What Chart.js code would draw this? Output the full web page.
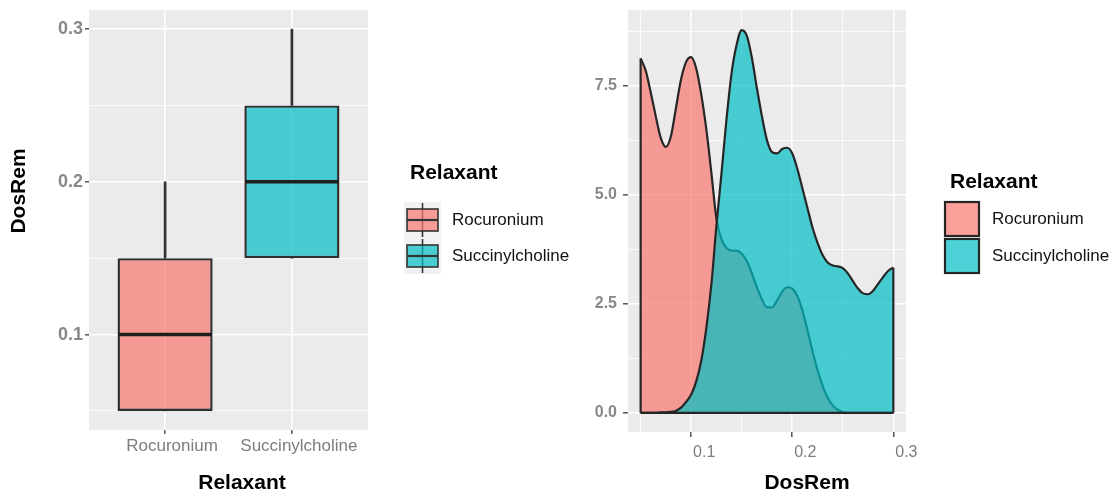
<!DOCTYPE html>
<html>
<head>
<meta charset="utf-8">
<title>DosRem by relaxant</title>
<script src="https://cdn.jsdelivr.net/npm/chart.js@4.4.1/dist/chart.umd.min.js"></script>
<style>
  html, body { margin: 0; padding: 0; background: #ffffff; }
  #wrap { position: relative; width: 1115px; height: 496px; overflow: hidden; }
  #boxWrap { position: absolute; left: 0; top: 0; width: 580px; height: 496px; }
  #densWrap { position: absolute; left: 580px; top: 0; width: 535px; height: 496px; }
</style>
</head>
<body>
<div id="wrap">
  <div id="boxWrap"><canvas id="boxChart"></canvas></div>
  <div id="densWrap"><canvas id="densChart"></canvas></div>
</div>
<script>
// ---- data ----
const relaxants = ['Rocuronium', 'Succinylcholine'];

// five-number summaries of DosRem for each relaxant
const boxMin    = [0.05, 0.15];
const boxQ1     = [0.05, 0.15];
const boxMedian = [0.10, 0.20];
const boxQ3     = [0.15, 0.25];
const boxMax    = [0.20, 0.30];

// tick positions (major ones get labels, the rest are minor grid lines)
const boxGridY    = [0.05, 0.10, 0.15, 0.20, 0.25, 0.30];
const boxTicksY   = [0.1, 0.2, 0.3];
const densGridX   = [0.05, 0.10, 0.15, 0.20, 0.25, 0.30];
const densTicksX  = [0.1, 0.2, 0.3];
const densGridY   = [0, 1.25, 2.5, 3.75, 5, 6.25, 7.5, 8.75];
const densTicksY  = [0, 2.5, 5, 7.5];

// kernel density estimates of DosRem
const dosGrid = [
  0.050, 0.055, 0.060, 0.065, 0.070, 0.075, 0.080, 0.085, 0.090, 0.095,
  0.100, 0.105, 0.110, 0.115, 0.120, 0.125, 0.130, 0.135, 0.140, 0.145,
  0.150, 0.155, 0.160, 0.165, 0.170, 0.175, 0.180, 0.185, 0.190, 0.195,
  0.200, 0.205, 0.210, 0.215, 0.220, 0.225, 0.230, 0.235, 0.240, 0.245,
  0.250, 0.255, 0.260, 0.265, 0.270, 0.275, 0.280, 0.285, 0.290, 0.295,
  0.300
];
const rocDensity = [
  8.13, 7.85, 7.35, 6.80, 6.30, 6.10, 6.35, 7.00, 7.65, 8.05,
  8.16, 7.90, 7.30, 6.50, 5.50, 4.45, 3.98, 3.78, 3.72, 3.72,
  3.65, 3.48, 3.20, 2.88, 2.60, 2.42, 2.42, 2.58, 2.78, 2.88,
  2.85, 2.68, 2.35, 1.90, 1.42, 0.98, 0.62, 0.35, 0.17, 0.07,
  0.02, 0.00, 0.00, 0.00, 0.00, 0.00, 0.00, 0.00, 0.00, 0.00,
  0.00
];
const sucDensity = [
  0.00, 0.00, 0.00, 0.00, 0.01, 0.01, 0.02, 0.05, 0.12, 0.25,
  0.42, 0.72, 1.20, 1.95, 2.95, 4.30, 5.50, 6.75, 7.80, 8.45,
  8.78, 8.65, 8.15, 7.45, 6.80, 6.25, 5.98, 5.95, 6.05, 6.08,
  5.95, 5.60, 5.15, 4.70, 4.25, 3.90, 3.62, 3.45, 3.38, 3.36,
  3.32, 3.20, 3.02, 2.85, 2.74, 2.72, 2.80, 2.96, 3.12, 3.26,
  3.33
];

// ---- styling ----
const FONT = "'Liberation Sans', Arial, Helvetica, sans-serif";
const fillColors = ['rgba(248,118,109,0.7)', 'rgba(0,191,196,0.7)'];
const outline = '#262626';

const isMajor = (v, majors) => majors.some(m => Math.abs(m - v) < 1e-9);

// axes keep a fixed size and add no edge padding of their own
const fixAxis = (size) => (s) => {
  if (s.isHorizontal()) s.height = size; else s.width = size;
  s.paddingTop = 0; s.paddingBottom = 0; s.paddingLeft = 0; s.paddingRight = 0;
};

// grey panel behind the plotting area
const panelBackground = {
  id: 'panelBackground',
  beforeDraw(chart) {
    const { ctx, chartArea: a } = chart;
    ctx.save();
    ctx.fillStyle = '#EBEBEB';
    ctx.fillRect(a.left, a.top, a.right - a.left, a.bottom - a.top);
    ctx.restore();
  }
};

// bold axis titles
const axisTitles = {
  id: 'axisTitles',
  afterDraw(chart, args, opts) {
    const ctx = chart.ctx;
    (opts.items || []).forEach(t => {
      ctx.save();
      ctx.font = `bold ${t.size}px ${FONT}`;
      ctx.fillStyle = '#000';
      ctx.textAlign = 'center';
      ctx.textBaseline = 'middle';
      ctx.translate(t.x, t.y);
      if (t.rotate) ctx.rotate(-Math.PI / 2);
      ctx.fillText(t.text, 0, 0);
      ctx.restore();
    });
  }
};

// legend for the fill groups, with box or square keys
const groupLegend = {
  id: 'groupLegend',
  afterDraw(chart, args, o) {
    const ctx = chart.ctx;
    ctx.save();
    ctx.textAlign = 'left';
    ctx.textBaseline = 'middle';
    ctx.fillStyle = '#000';
    ctx.font = `bold 21px ${FONT}`;
    ctx.fillText(o.title, o.titleX, o.titleY);
    relaxants.forEach((name, i) => {
      const cy = o.rowY[i];
      if (o.glyph === 'box') {
        const cx = o.keyX + o.keyW / 2;
        ctx.fillStyle = '#F2F2F2';
        ctx.fillRect(o.keyX - 3, cy - 18, o.keyW + 6, 36);
        ctx.strokeStyle = '#333';
        ctx.lineWidth = 1.6;
        ctx.beginPath();
        ctx.moveTo(cx, cy - 17); ctx.lineTo(cx, cy + 17);
        ctx.stroke();
        ctx.fillStyle = fillColors[i];
        ctx.fillRect(o.keyX, cy - 11, o.keyW, 22);
        ctx.strokeRect(o.keyX, cy - 11, o.keyW, 22);
        ctx.lineWidth = 2.2;
        ctx.beginPath();
        ctx.moveTo(o.keyX, cy); ctx.lineTo(o.keyX + o.keyW, cy);
        ctx.stroke();
      } else {
        ctx.fillStyle = fillColors[i];
        ctx.fillRect(o.keyX, cy - o.keyW / 2, o.keyW, o.keyW);
        ctx.strokeStyle = outline;
        ctx.lineWidth = 2.2;
        ctx.strokeRect(o.keyX, cy - o.keyW / 2, o.keyW, o.keyW);
      }
      ctx.fillStyle = '#111';
      ctx.font = `17px ${FONT}`;
      ctx.fillText(name, o.labelX, cy);
    });
    ctx.restore();
  }
};

// thick median line across each box
const boxMedians = {
  id: 'boxMedians',
  afterDatasetsDraw(chart) {
    const ctx = chart.ctx;
    const y = chart.scales.y;
    const meta = chart.getDatasetMeta(0);
    ctx.save();
    ctx.strokeStyle = '#1f1f1f';
    ctx.lineWidth = 3.5;
    meta.data.forEach((bar, i) => {
      const py = y.getPixelForValue(boxMedian[i]);
      ctx.beginPath();
      ctx.moveTo(bar.x - bar.width / 2 + 1, py);
      ctx.lineTo(bar.x + bar.width / 2 - 1, py);
      ctx.stroke();
    });
    ctx.restore();
  }
};

// ---- box plot ----
new Chart(document.getElementById('boxChart'), {
  type: 'bar',
  data: {
    datasets: [
      {
        label: 'box',
        data: relaxants.map((_, i) => ({ x: i + 1, y: [boxQ1[i], boxQ3[i]] })),
        backgroundColor: fillColors,
        borderColor: '#2e2e2e',
        borderWidth: 2.4,
        borderSkipped: false,
        grouped: false,
        categoryPercentage: 1,
        barPercentage: 0.75,
        order: 1
      },
      {
        label: 'upper whisker',
        data: relaxants.map((_, i) => ({ x: i + 1, y: [boxQ3[i], boxMax[i]] })),
        backgroundColor: '#333',
        grouped: false,
        categoryPercentage: 1,
        barPercentage: 1,
        maxBarThickness: 2,
        order: 2
      },
      {
        label: 'lower whisker',
        data: relaxants.map((_, i) => ({ x: i + 1, y: [boxMin[i], boxQ1[i]] })),
        backgroundColor: '#333',
        grouped: false,
        categoryPercentage: 1,
        barPercentage: 1,
        maxBarThickness: 2,
        order: 2
      }
    ]
  },
  options: {
    responsive: true,
    maintainAspectRatio: false,
    devicePixelRatio: 1,
    animation: false,
    layout: { padding: { top: 10, right: 212, left: 0, bottom: 0 } },
    plugins: {
      legend: { display: false },
      tooltip: { enabled: false },
      axisTitles: {
        items: [
          { text: 'DosRem', x: 19, y: 191, size: 21, rotate: true },
          { text: 'Relaxant', x: 242, y: 483, size: 21 }
        ]
      },
      groupLegend: {
        title: 'Relaxant', titleX: 410, titleY: 173, glyph: 'box',
        keyX: 407, keyW: 31, rowY: [220, 256], labelX: 452
      }
    },
    scales: {
      x: {
        type: 'linear', min: 0.4, max: 2.6, bounds: 'data', offset: false,
        afterBuildTicks: s => { s.ticks = relaxants.map((_, i) => ({ value: i + 1 })); },
        afterFit: fixAxis(66),
        ticks: {
          callback: v => relaxants[Math.round(v) - 1] || '',
          font: { family: FONT, size: 17 }, color: '#7d7d7d', padding: 2, labelOffset: 7,
          autoSkip: false, maxRotation: 0
        },
        grid: { color: '#ffffff', lineWidth: 1.6, offset: false,
                tickColor: '#555', tickLength: 4, tickWidth: 1.5 },
        border: { display: false }
      },
      y: {
        type: 'linear', min: 0.0375, max: 0.3125, bounds: 'data',
        afterBuildTicks: s => { s.ticks = boxGridY.map(v => ({ value: v })); },
        afterFit: fixAxis(89),
        ticks: {
          callback: v => isMajor(v, boxTicksY) ? v.toFixed(1) : '',
          font: { family: FONT, size: 18, weight: 'bold' }, color: '#888', padding: 2,
          autoSkip: false
        },
        grid: {
          color: '#ffffff',
          lineWidth: c => isMajor(c.tick.value, boxTicksY) ? 1.6 : 0.8,
          tickColor: c => isMajor(c.tick.value, boxTicksY) ? '#555' : 'rgba(0,0,0,0)',
          tickLength: 4, tickWidth: 1.5
        },
        border: { display: false }
      }
    }
  },
  plugins: [panelBackground, boxMedians, axisTitles, groupLegend]
});

// ---- density plot ----
const curve = (ys) => dosGrid.map((x, i) => ({ x, y: ys[i] }));
const last = dosGrid.length - 1;
const edgeStyle = {
  borderColor: outline, borderWidth: 2.2, pointRadius: 0, fill: false, tension: 0, order: 0
};

new Chart(document.getElementById('densChart'), {
  type: 'line',
  data: {
    datasets: [
      {
        label: 'Rocuronium',
        data: curve(rocDensity),
        fill: 'origin',
        backgroundColor: fillColors[0],
        borderColor: outline, borderWidth: 2.2,
        pointRadius: 0, cubicInterpolationMode: 'monotone',
        order: 3
      },
      {
        label: 'Succinylcholine',
        data: curve(sucDensity),
        fill: 'origin',
        backgroundColor: fillColors[1],
        borderColor: outline, borderWidth: 2.2,
        pointRadius: 0, cubicInterpolationMode: 'monotone',
        order: 2
      },
      Object.assign({ label: 'left edge',
        data: [{ x: dosGrid[0], y: 0 }, { x: dosGrid[0], y: rocDensity[0] }] }, edgeStyle),
      Object.assign({ label: 'right edge',
        data: [{ x: dosGrid[last], y: 0 }, { x: dosGrid[last], y: sucDensity[last] }] }, edgeStyle),
      Object.assign({ label: 'baseline',
        data: [{ x: dosGrid[0], y: 0 }, { x: dosGrid[last], y: 0 }] }, edgeStyle)
    ]
  },
  options: {
    responsive: true,
    maintainAspectRatio: false,
    devicePixelRatio: 1,
    animation: false,
    layout: { padding: { top: 10, right: 209, left: 0, bottom: 0 } },
    plugins: {
      legend: { display: false },
      tooltip: { enabled: false },
      axisTitles: {
        items: [ { text: 'DosRem', x: 227, y: 483, size: 21 } ]
      },
      groupLegend: {
        title: 'Relaxant', titleX: 370, titleY: 182, glyph: 'square',
        keyX: 365, keyW: 34, rowY: [219, 256], labelX: 412
      }
    },
    scales: {
      x: {
        type: 'linear', min: 0.0375, max: 0.3125, bounds: 'data',
        afterBuildTicks: s => { s.ticks = densGridX.map(v => ({ value: v })); },
        afterFit: fixAxis(64),
        ticks: {
          callback: v => isMajor(v, densTicksX) ? v.toFixed(1) : '',
          font: { family: FONT, size: 16 }, color: '#7d7d7d', padding: 6, labelOffset: 13,
          autoSkip: false, maxRotation: 0
        },
        grid: {
          color: '#ffffff',
          lineWidth: c => isMajor(c.tick.value, densTicksX) ? 1.6 : 0.8,
          tickColor: c => isMajor(c.tick.value, densTicksX) ? '#555' : 'rgba(0,0,0,0)',
          tickLength: 5, tickWidth: 1.5
        },
        border: { display: false }
      },
      y: {
        type: 'linear', min: -0.44, max: 9.24, bounds: 'data',
        afterBuildTicks: s => { s.ticks = densGridY.map(v => ({ value: v })); },
        afterFit: fixAxis(48),
        ticks: {
          callback: v => isMajor(v, densTicksY) ? v.toFixed(1) : '',
          font: { family: FONT, size: 16, weight: 'bold' }, color: '#888', padding: 6,
          autoSkip: false
        },
        grid: {
          color: '#ffffff',
          lineWidth: c => isMajor(c.tick.value, densTicksY) ? 1.6 : 0.8,
          tickColor: c => isMajor(c.tick.value, densTicksY) ? '#555' : 'rgba(0,0,0,0)',
          tickLength: 5, tickWidth: 1.5
        },
        border: { display: false }
      }
    }
  },
  plugins: [panelBackground, axisTitles, groupLegend]
});
</script>
</body>
</html>
